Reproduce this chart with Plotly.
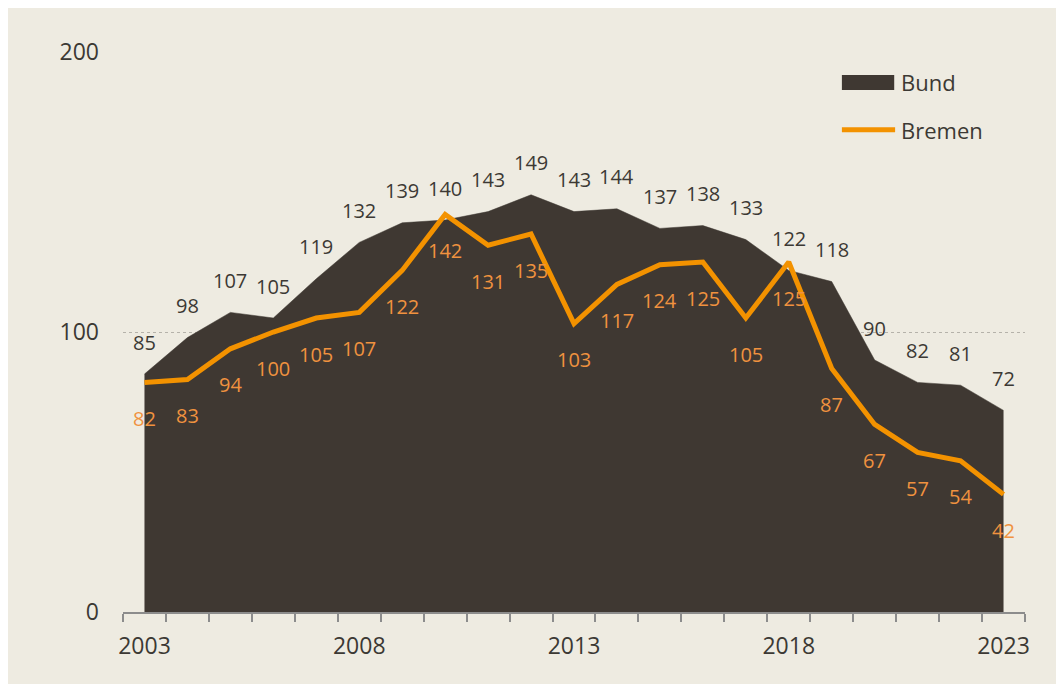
import plotly.graph_objects as go

years = list(range(2003, 2024))
bund = [85, 98, 107, 105, 119, 132, 139, 140, 143, 149, 143, 144, 137, 138, 133, 122, 118, 90, 82, 81, 72]
bremen = [82, 83, 94, 100, 105, 107, 122, 142, 131, 135, 103, 117, 124, 125, 105, 125, 87, 67, 57, 54, 42]
year_labels = [2003, 2008, 2013, 2018, 2023]

BG = "#EEEBE1"
DARK = "#3F3832"
ORANGE = "#F39200"
LABEL_ORANGE = "#F0923F"
TEXT = "#3C3934"
FONT = "Open Sans"

fig = go.Figure()

fig.add_trace(go.Scatter(
    x=years, y=bund, name="Bund", mode="lines",
    line=dict(color=DARK, width=0.5), fill="tozeroy", fillcolor=DARK,
    showlegend=False
))
fig.add_trace(go.Scatter(
    x=years, y=bremen, name="Bremen", mode="lines",
    line=dict(color=ORANGE, width=5), showlegend=False
))

# Datenbeschriftungen
for x, y in zip(years, bund):
    fig.add_annotation(x=x, y=y, text=str(y), showarrow=False, yshift=32,
                       font=dict(family=FONT, size=20, color=TEXT))
for x, y in zip(years, bremen):
    fig.add_annotation(x=x, y=y, text=str(y), showarrow=False, yshift=-36,
                       font=dict(family=FONT, size=20, color=LABEL_ORANGE))

# Legende (manuell, wie im Original)
fig.add_shape(type="rect", xref="paper", yref="paper",
              x0=0.797, x1=0.855, y0=0.932, y1=0.959,
              fillcolor=DARK, line=dict(width=0))
fig.add_shape(type="line", xref="paper", yref="paper",
              x0=0.797, x1=0.856, y0=0.861, y1=0.861,
              line=dict(color=ORANGE, width=5))
fig.add_annotation(xref="paper", yref="paper", x=0.860, y=0.946,
                   xanchor="left", yanchor="middle", text="Bund", showarrow=False,
                   font=dict(family=FONT, size=22, color=TEXT))
fig.add_annotation(xref="paper", yref="paper", x=0.860, y=0.861,
                   xanchor="left", yanchor="middle", text="Bremen", showarrow=False,
                   font=dict(family=FONT, size=22, color=TEXT))

fig.update_layout(
    width=1056, height=676,
    margin=dict(l=115, r=39, t=44, b=72),
    paper_bgcolor=BG, plot_bgcolor=BG,
    font=dict(family=FONT, size=23, color=TEXT),
    showlegend=False,
    xaxis=dict(
        range=[2002.5, 2023.5], tickvals=year_labels,
        ticks="outside", ticklen=13, tickcolor="rgba(0,0,0,0)",
        showline=True, linecolor="#8C8C8C", linewidth=1.5,
        showgrid=False, zeroline=False,
        minor=dict(tick0=2002.5, dtick=1, ticks="outside", ticklen=8,
                   tickcolor="#8C8C8C", tickwidth=1.5, showgrid=False),
        tickfont=dict(size=23, color=TEXT),
    ),
    yaxis=dict(
        range=[0, 200], tickvals=[0, 100, 200], showline=False, zeroline=False,
        showgrid=True, gridcolor="#B5B2AA", griddash="dot", gridwidth=1,
        ticks="", ticklabelstandoff=23,
        tickfont=dict(size=23, color=TEXT),
    ),
)

fig.write_html("out.html")
